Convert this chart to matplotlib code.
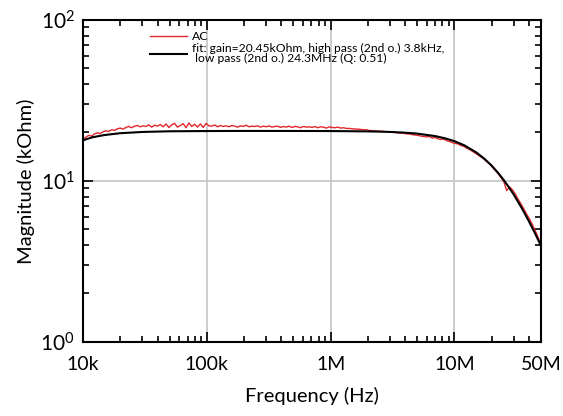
import numpy as np
import matplotlib
matplotlib.use('Agg')
import matplotlib.pyplot as plt
from matplotlib.ticker import FixedLocator, LogLocator, NullFormatter

plt.rcParams['font.family'] = ['Lato', 'DejaVu Sans']
plt.rcParams['mathtext.default'] = 'regular'

##### Data #####
# Measured sweep (AC), 161 log-spaced points from 10 kHz to 50 MHz
f_start = 1e4
f_stop = 5e7
ac_mag = [
    18.2, 18.7, 19.2, 19.0, 19.6, 19.9, 19.7, 20.2, 20.5, 20.3,
    20.8, 20.6, 21.1, 21.3, 21.0, 21.5, 21.8, 21.4, 21.9, 22.1,
    21.7, 22.0, 21.8, 22.3, 21.6, 22.2, 21.9, 22.4, 21.7, 22.6,
    21.5, 22.3, 22.8, 21.6, 22.1, 22.7, 21.4, 22.9, 21.8, 22.5,
    21.6, 22.6, 21.5, 22.8, 22.0, 21.9, 22.3, 21.7, 22.1, 21.8,
    22.0, 21.7, 22.1, 21.9, 21.6, 22.0, 21.8, 22.2, 21.7, 21.9,
    21.8, 22.0, 21.6, 21.9, 21.7, 22.0, 21.6, 21.8, 21.9, 21.5,
    21.8, 21.6, 21.9, 21.5, 21.8, 21.7, 21.4, 21.8, 21.6, 21.7,
    21.5, 21.8, 21.4, 21.7, 21.6, 21.3, 21.7, 21.5, 21.4, 21.6,
    21.3, 21.4, 21.2, 21.2, 21.1, 21.0, 21.0, 20.9, 20.8, 20.8,
    20.6, 20.5, 20.5, 20.4, 20.4, 20.3, 20.2, 20.2, 20.1, 20.0,
    19.9, 19.8, 19.8, 19.6, 19.6, 19.4, 19.3, 19.2, 19.0, 18.9,
    18.8, 18.9, 18.5, 18.6, 18.3, 18.1, 18.2, 17.8, 17.6, 17.3,
    17.1, 17.0, 16.6, 16.4, 16.0, 15.7, 15.3, 14.9, 14.5, 14.1,
    13.7, 13.2, 12.8, 12.2, 11.6, 11.1, 10.5, 9.9, 8.7, 9.2,
    8.8, 8.3, 7.7, 7.2, 6.7, 6.2, 5.8, 5.35, 4.9, 4.45,
    4.0,
]
ac_freq = np.geomspace(f_start, f_stop, len(ac_mag))

# Fit curve
fit_freq = [1e4, 1.2e4, 1.5e4, 2e4, 3e4, 5e4, 1e5, 2e5, 5e5, 1e6, 2e6, 3e6, 4e6,
            5e6, 7e6, 8.5e6, 1e7, 1.2e7, 1.5e7, 1.75e7, 2e7, 2.25e7, 2.5e7,
            2.75e7, 3e7, 3.5e7, 4e7, 4.5e7, 5e7]
fit_mag = [17.9, 18.7, 19.3, 19.8, 20.15, 20.35, 20.42, 20.45, 20.44, 20.42,
           20.32, 20.17, 19.95, 19.68, 18.99, 18.36, 17.66, 16.65, 15.04, 13.71,
           12.43, 11.23, 10.13, 9.14, 8.26, 6.77, 5.60, 4.68, 3.95]

x_ticks = [1e4, 1e5, 1e6, 1e7, 5e7]
x_labels = ['10k', '100k', '1M', '10M', '50M']

##### Plot #####
fig = plt.figure(figsize=(5.63, 4.16), dpi=100)
ax = fig.add_axes([0.1474, 0.178, 0.8136, 0.774])

ax.plot(ac_freq, ac_mag, color='#e3262b', lw=1.0, label='AC')
ax.plot(fit_freq, fit_mag, color='black', lw=1.5,
        label='fit: gain=20.45kOhm, high pass (2nd o.) 3.8kHz,\n low pass (2nd o.) 24.3MHz (Q: 0.51)')

ax.set_xscale('log')
ax.set_yscale('log')
ax.set_xlim(1e4, 5e7)
ax.set_ylim(1, 100)

ax.xaxis.set_major_locator(FixedLocator(x_ticks))
ax.set_xticklabels(x_labels)
ax.xaxis.set_minor_locator(LogLocator(base=10, subs=np.arange(2, 10)))
ax.xaxis.set_minor_formatter(NullFormatter())
ax.set_yticks([1, 10, 100])
ax.set_yticklabels(['$10^0$', '$10^1$', '$10^2$'])
ax.yaxis.set_minor_locator(LogLocator(base=10, subs=np.arange(2, 10)))
ax.yaxis.set_minor_formatter(NullFormatter())

ax.tick_params(which='both', direction='in', top=True, right=True, width=1.2)
ax.tick_params(which='major', length=7)
ax.tick_params(which='minor', length=4)
ax.tick_params(axis='x', which='major', labelsize=14, pad=10)
ax.tick_params(axis='y', which='major', labelsize=15, pad=6)
for s in ax.spines.values():
    s.set_linewidth(1.5)

# grid only on decades
for xv in [1e5, 1e6, 1e7]:
    ax.axvline(xv, color='#c8c8c8', lw=1.3, zorder=0)
ax.axhline(10, color='#c8c8c8', lw=1.3, zorder=0)

ax.set_xlabel('Frequency (Hz)', fontsize=14.5, labelpad=10)
ax.set_ylabel('Magnitude (kOhm)', fontsize=14.5, labelpad=4)

leg = ax.legend(loc='upper left', bbox_to_anchor=(0.146, 0.966), frameon=False,
                fontsize=8.7, handlelength=3.1, handletextpad=0.4,
                labelspacing=0.1, borderaxespad=0, borderpad=0)
leg.get_texts()[1].set_linespacing(0.85)

fig.savefig('out.png', dpi=100)
